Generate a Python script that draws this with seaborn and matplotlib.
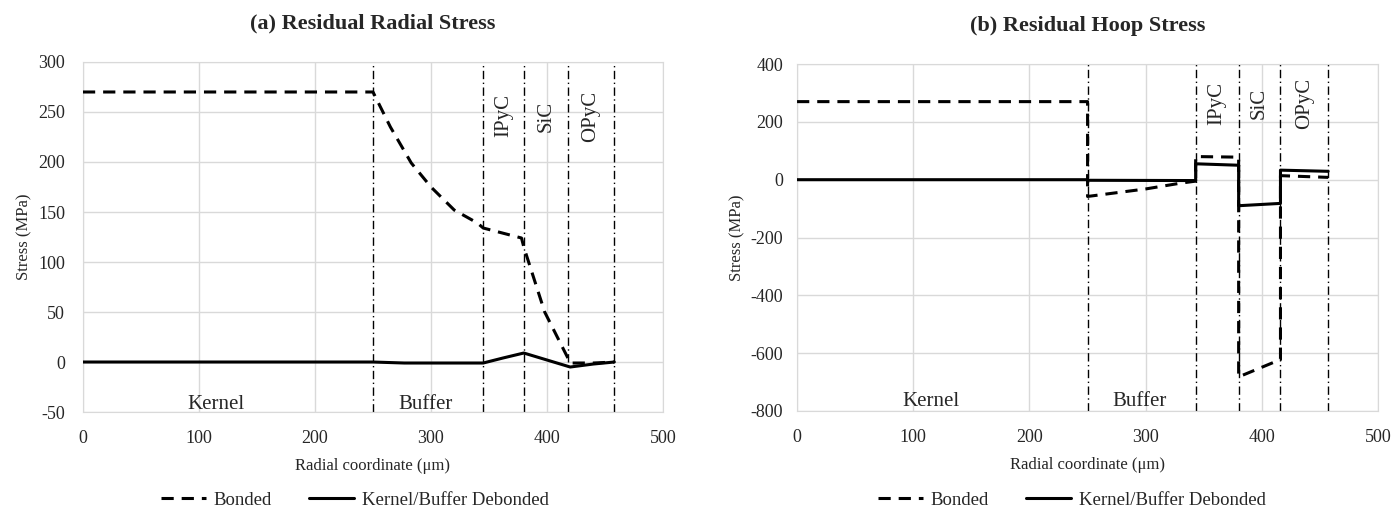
import matplotlib
matplotlib.use("Agg")
import matplotlib.pyplot as plt
import seaborn as sns
import pandas as pd
from matplotlib.lines import Line2D

# radial stress, bonded case
rad_bond_r = [0, 250, 265, 283, 300, 320, 340, 345, 378, 380, 398, 418, 420, 440, 458]
rad_bond_s = [270, 270, 235, 199, 175, 152, 139, 134, 124, 115, 50, 4, -1, -1, 0]
# radial stress, kernel/buffer debonded
rad_deb_r = [0, 250, 277, 345, 362, 380, 400, 420, 440, 458]
rad_deb_s = [0, 0, -1, -1, 4, 9, 2, -5, -2, 0]

# hoop stress, bonded case
hoop_bond_r = [0, 250, 250, 300, 330, 343, 343, 380, 380, 416, 416, 457]
hoop_bond_s = [270, 270, -58, -32, -12, -5, 80, 78, -682, -622, 14, 8]
# hoop stress, kernel/buffer debonded
hoop_deb_r = [0, 250, 250, 343, 343, 380, 380, 416, 416, 457]
hoop_deb_s = [0, 0, -2, -3, 55, 50, -90, -82, 33, 29]

rad_bounds = [250, 345, 380, 418, 458]
hoop_bounds = [250, 343, 380, 416, 457]
layer_names = ["IPyC", "SiC", "OPyC"]

sns.set_style("whitegrid")
plt.rcParams['font.family'] = ['Liberation Serif', 'DejaVu Serif']
plt.rcParams['axes.unicode_minus'] = False

fig = plt.figure(figsize=(13.92, 5.14), dpi=100)
ax1 = fig.add_axes([0.0596, 0.1984, 0.4167, 0.681])
ax2 = fig.add_axes([0.5726, 0.2004, 0.4174, 0.675])

dash = (0, (4, 2.6))


def draw(ax, br, bs, dr, ds, bounds, ylim, yticks, title, region_y, layer_y, ypad):
    dfb = pd.DataFrame({'r': br, 's': bs})
    dfd = pd.DataFrame({'r': dr, 's': ds})
    for b in bounds:
        ax.axvline(b, color='black', lw=1.0, ls=(0, (6, 2.5, 1, 2.5)), zorder=2)
    sns.lineplot(data=dfb, x='r', y='s', ax=ax, sort=False, estimator=None,
                 color='black', lw=2.2, linestyle=dash, zorder=3)
    sns.lineplot(data=dfd, x='r', y='s', ax=ax, sort=False, estimator=None,
                 color='black', lw=2.2, zorder=4)
    ax.set_xlim(0, 500)
    ax.set_ylim(*ylim)
    ax.set_yticks(yticks)
    ax.set_xticks(range(0, 501, 100))
    ax.grid(True, color='#d9d9d9', lw=1.0)
    for sp in ax.spines.values():
        sp.set_color('#d9d9d9')
    ax.tick_params(axis='both', length=0, labelsize=13)
    ax.tick_params(axis='x', pad=13)
    ax.tick_params(axis='y', pad=ypad)
    ax.set_xlabel("Radial coordinate (μm)", fontsize=12, labelpad=8)
    ax.set_ylabel("Stress (MPa)", fontsize=12, labelpad=4)
    ax.set_title(title, fontsize=16, fontweight='bold', pad=24)
    ax.text(115, region_y, "Kernel", fontsize=15, ha='center', va='center')
    ax.text(295, region_y, "Buffer", fontsize=15, ha='center', va='center')
    for i, name in enumerate(layer_names):
        xm = (bounds[i + 1] + bounds[i + 2]) / 2
        ax.text(xm, layer_y, name, fontsize=15, rotation=90, ha='center', va='center')


draw(ax1, rad_bond_r, rad_bond_s, rad_deb_r, rad_deb_s, rad_bounds,
     (-50, 300), range(-50, 301, 50), "(a) Residual Radial Stress", -42, 246, 13)
draw(ax2, hoop_bond_r, hoop_bond_s, hoop_deb_r, hoop_deb_s, hoop_bounds,
     (-800, 400), range(-800, 401, 200), "(b) Residual Hoop Stress", -768, 265, 10)

handles = [Line2D([], [], color='black', lw=2.2, linestyle=dash),
           Line2D([], [], color='black', lw=2.2)]
labels = ["Bonded", "Kernel/Buffer Debonded"]
for xc in [0.255, 0.77]:
    fig.legend(handles, labels, loc='center', bbox_to_anchor=(xc, 0.027), ncol=2,
               frameon=False, fontsize=13.5, handlelength=2.4, columnspacing=2.0,
               handletextpad=0.4)

fig.savefig("out.png", dpi=100)
